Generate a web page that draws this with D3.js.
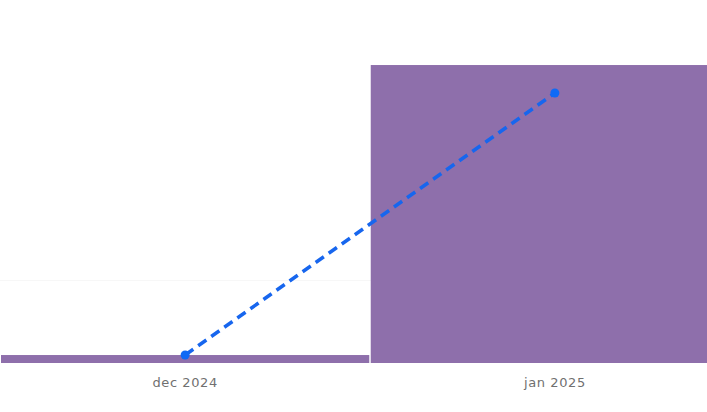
<!DOCTYPE html>
<html>
<head>
<meta charset="utf-8">
<script src="https://cdn.jsdelivr.net/npm/d3@7"></script>
<style>
  body { margin: 0; background: #fff; }
  svg { display: block; }
</style>
</head>
<body>
<div id="chart"></div>
<script>
// data
var months = ["dec 2024", "jan 2025"];
var barValues = [96, 3590];
var lineValues = [96, 3253];
var gridTicks = [1000];

var width = 707, height = 412;
var margin = {top: 20, bottom: 49};

var svg = d3.select("#chart")
  .append("svg")
    .attr("width", width)
    .attr("height", height);

// x: second band runs past the right edge and is clipped
var x = d3.scaleBand()
    .domain(months)
    .range([1, 739])
    .paddingInner(0.004)
    .paddingOuter(0);

var y = d3.scaleLinear()
    .domain([0, 4100])
    .range([height - margin.bottom, height - margin.bottom - 4100 * 0.083]);

// gridlines
svg.append("g")
  .selectAll("line")
  .data(gridTicks)
  .enter().append("line")
    .attr("x1", 0)
    .attr("x2", width)
    .attr("y1", function(d) { return Math.round(y(d)) + 0.5; })
    .attr("y2", function(d) { return Math.round(y(d)) + 0.5; })
    .attr("stroke", "#f7f7f7")
    .attr("stroke-width", 1);

// bars
svg.append("g")
  .selectAll("rect")
  .data(barValues)
  .enter().append("rect")
    .attr("x", function(d, i) { return x(months[i]); })
    .attr("y", function(d) { return y(d); })
    .attr("width", x.bandwidth())
    .attr("height", function(d) { return y(0) - y(d); })
    .attr("fill", "#8e6fab");

// line
var line = d3.line()
    .x(function(d, i) { return x(months[i]) + x.bandwidth() / 2; })
    .y(function(d) { return y(d); });

svg.append("path")
    .datum(lineValues)
    .attr("d", line)
    .attr("fill", "none")
    .attr("stroke", "#1766ee")
    .attr("stroke-width", 3.5)
    .attr("stroke-dasharray", "10 6");

svg.append("g")
  .selectAll("circle")
  .data(lineValues)
  .enter().append("circle")
    .attr("cx", function(d, i) { return x(months[i]) + x.bandwidth() / 2; })
    .attr("cy", function(d) { return y(d); })
    .attr("r", 4.5)
    .attr("fill", "#0f6af5");

// x axis labels
var xAxis = svg.append("g")
    .attr("transform", "translate(0," + y(0) + ")")
    .call(d3.axisBottom(x).tickSize(0).tickPadding(15));
xAxis.select(".domain").remove();
xAxis.selectAll("text")
    .attr("fill", "#707070")
    .style("font-family", "'DejaVu Sans', sans-serif")
    .style("font-size", "13px")
    .style("letter-spacing", "0.6px");
</script>
</body>
</html>
